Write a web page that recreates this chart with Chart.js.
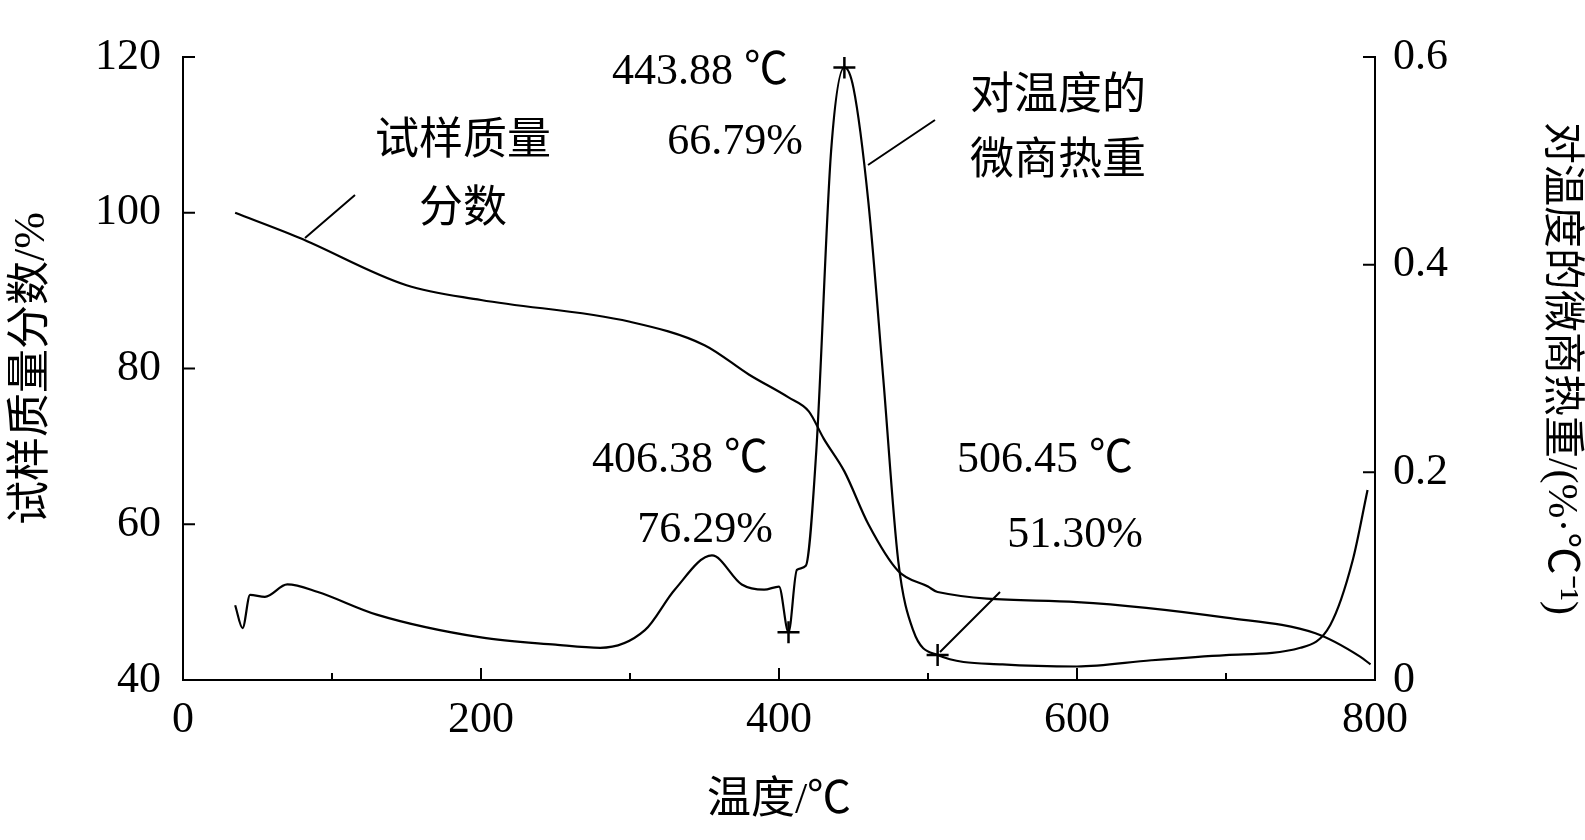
<!DOCTYPE html>
<html>
<head>
<meta charset="utf-8">
<script src="https://cdn.jsdelivr.net/npm/chart.js@4"></script>
<style>
body { margin: 0; background: #fff; }
</style>
</head>
<body>
<canvas id="tgChart" width="1585" height="840"></canvas>
<script>
// mass fraction (left axis, %)
var tgTemp = [35, 78, 150, 200, 300, 350, 380, 406.38, 420, 430, 443.88, 460, 480, 500, 506.45, 600, 700, 760, 790, 797];
var tgMass = [100, 96.8, 90.7, 88.8, 86, 83, 79.2, 76.29, 74.5, 71, 66.79, 60, 54, 52, 51.3, 50, 48, 46, 43, 42];

// DTG (right axis, %/°C)
var dtgTemp = [35, 40, 45, 55, 70, 90, 130, 200, 250, 280, 310, 330, 355, 375, 390, 400, 406.38, 412, 418, 425, 435, 443.88, 450, 460, 470, 480, 490, 506.45, 550, 600, 650, 700, 750, 770, 785, 795];
var dtgRate = [0.072, 0.05, 0.082, 0.08, 0.092, 0.085, 0.063, 0.041, 0.034, 0.031, 0.048, 0.087, 0.12, 0.092, 0.087, 0.09, 0.046, 0.106, 0.11, 0.22, 0.51, 0.59, 0.57, 0.46, 0.29, 0.115, 0.048, 0.024, 0.015, 0.013, 0.019, 0.024, 0.031, 0.053, 0.115, 0.183];

var markTemp = [406.38, 443.88, 506.45];
var markRate = [0.046, 0.59, 0.024];

var xTicks = [0, 200, 400, 600, 800];
var yTicks = [40, 60, 80, 100, 120];
var y1Ticks = [0, 0.2, 0.4, 0.6];

var serif = '"Liberation Serif", "Noto Sans CJK SC", serif';

function pts(xs, ys) {
    return xs.map(function (x, i) { return { x: x, y: ys[i] }; });
}

// annotation text, placed in canvas pixels
var notes = [
    ['443.88 ℃', 700, 72], ['66.79%', 735, 142],
    ['406.38 ℃', 680, 460], ['76.29%', 705, 530],
    ['506.45 ℃', 1045, 460], ['51.30%', 1075, 535],
    ['试样质量', 463, 142], ['分数', 463, 210],
    ['对温度的', 1058, 97], ['微商热重', 1058, 162]
];
var leaders = [[305, 238, 355, 195], [868, 165, 935, 120], [940, 652, 1000, 592]];

var extras = {
    id: 'extras',
    afterDraw: function (chart) {
        var c = chart.ctx, sx = chart.scales.x, sy = chart.scales.y, sy1 = chart.scales.y1;
        c.save();
        c.strokeStyle = '#000';
        c.lineWidth = 2;
        c.beginPath();
        xTicks.forEach(function (v) { var p = sx.getPixelForValue(v); c.moveTo(p, sx.top); c.lineTo(p, sx.top - 12); });
        xTicks.slice(0, 4).forEach(function (v) { var p = sx.getPixelForValue(v + 100); c.moveTo(p, sx.top); c.lineTo(p, sx.top - 7); });
        yTicks.forEach(function (v) { var p = sy.getPixelForValue(v); c.moveTo(sy.right, p); c.lineTo(sy.right + 12, p); });
        y1Ticks.forEach(function (v) { var p = sy1.getPixelForValue(v); c.moveTo(sy1.left, p); c.lineTo(sy1.left - 12, p); });
        leaders.forEach(function (l) { c.moveTo(l[0], l[1]); c.lineTo(l[2], l[3]); });
        c.stroke();
        c.fillStyle = '#000';
        c.font = '44px ' + serif;
        c.textBaseline = 'middle';
        c.textAlign = 'center';
        notes.forEach(function (n) { c.fillText(n[0], n[1], n[2]); });
        c.restore();
    }
};

new Chart(document.getElementById('tgChart').getContext('2d'), {
    type: 'line',
    data: {
        datasets: [
            { data: pts(tgTemp, tgMass), yAxisID: 'y', borderColor: '#000', borderWidth: 2.2, pointRadius: 0, cubicInterpolationMode: 'monotone' },
            { data: pts(dtgTemp, dtgRate), yAxisID: 'y1', borderColor: '#000', borderWidth: 2.2, pointRadius: 0, cubicInterpolationMode: 'monotone' },
            { data: pts(markTemp, markRate), yAxisID: 'y1', showLine: false, pointStyle: 'cross', pointRadius: 11, borderColor: '#000', borderWidth: 2.5 }
        ]
    },
    options: {
        responsive: false,
        animation: false,
        layout: { padding: { top: 57, left: 0, right: 0, bottom: 0 } },
        plugins: { legend: { display: false }, tooltip: { enabled: false } },
        scales: {
            x: {
                type: 'linear', min: 0, max: 800,
                afterBuildTicks: function (s) { s.ticks = xTicks.map(function (v) { return { value: v }; }); },
                afterFit: function (s) { s.height = 160; },
                grid: { display: false },
                border: { display: true, color: '#000', width: 2 },
                ticks: { color: '#000', font: { family: serif, size: 44 }, padding: 6, maxRotation: 0 },
                title: { display: true, text: '温度/℃', color: '#000', font: { family: serif, size: 44 }, padding: { top: 0, bottom: 12 } }
            },
            y: {
                position: 'left', min: 40, max: 120,
                afterBuildTicks: function (s) { s.ticks = yTicks.map(function (v) { return { value: v }; }); },
                afterFit: function (s) { s.width = 183; },
                grid: { display: false },
                border: { display: true, color: '#000', width: 2 },
                ticks: { color: '#000', font: { family: serif, size: 44 }, padding: 14 },
                title: { display: true, text: '试样质量分数/%', color: '#000', font: { family: serif, size: 44 }, padding: { top: 6, bottom: 0 } }
            },
            y1: {
                position: 'right', min: 0, max: 0.6,
                afterBuildTicks: function (s) { s.ticks = y1Ticks.map(function (v) { return { value: v }; }); },
                afterFit: function (s) { s.width = 210; },
                grid: { display: false },
                border: { display: true, color: '#000', width: 2 },
                ticks: { color: '#000', font: { family: serif, size: 44 }, padding: 10, callback: function (v) { return v === 0 ? '0' : v.toFixed(1); } },
                title: { display: true, text: '对温度的微商热重/(%·℃⁻¹)', color: '#000', font: { family: serif, size: 42 }, padding: { top: 0, bottom: 0 } }
            }
        }
    },
    plugins: [extras]
});
</script>
</body>
</html>
